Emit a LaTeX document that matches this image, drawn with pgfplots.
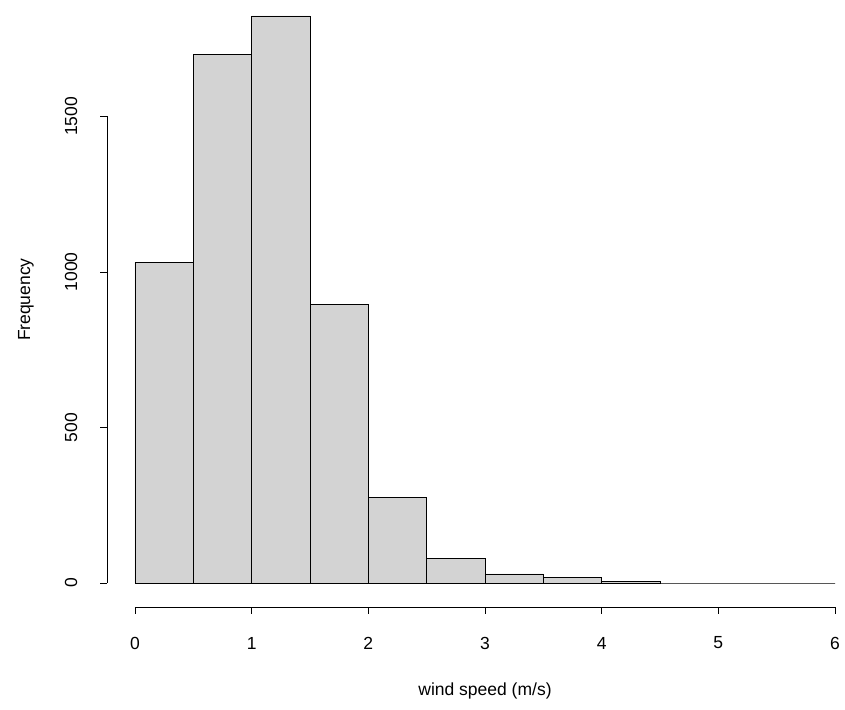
\documentclass[border=0pt]{standalone}
\usepackage{pgfplots}
\pgfplotsset{compat=1.18}
\usepackage{fontspec}
\setmainfont{Liberation Sans}
\definecolor{barfill}{RGB}{211,211,211}
\begin{document}
\begin{tikzpicture}[x=1pt,y=1pt]
\begin{axis}[anchor=origin, at={(0,0)}, scale only axis, width=700pt, height=567pt,
  xmin=0, xmax=6, ymin=0, ymax=1823, axis lines=none, clip=false]
\addplot[ybar interval, fill=barfill, draw=black, line width=0.8pt] coordinates {
(0,1032) (0.5,1698) (1,1823) (1.5,897) (2,276) (2.5,80) (3,29) (3.5,19) (4,6) (4.5,0) (5,0) (5.5,0) (6,0)};
\draw[line width=0.8pt] ([xshift=-28pt]axis cs:0,0) -- ([xshift=-28pt]axis cs:0,1500);
\pgfplotsinvokeforeach{0,500,1000,1500}{
  \draw[line width=0.8pt] ([xshift=-28pt]axis cs:0,#1) -- ([xshift=-35pt]axis cs:0,#1);
  \node[rotate=90, font=\fontsize{17.5}{20}\selectfont] at ([xshift=-64pt]axis cs:0,#1) {#1};
}
\draw[line width=0.8pt] ([yshift=-24pt]axis cs:0,0) -- ([yshift=-24pt]axis cs:6,0);
\pgfplotsinvokeforeach{0,1,2,3,4,5,6}{
  \draw[line width=0.8pt] ([yshift=-24pt]axis cs:#1,0) -- ([yshift=-31pt]axis cs:#1,0);
  \node[font=\fontsize{17.5}{20}\selectfont] at ([yshift=-60pt]axis cs:#1,0) {#1};
}
\node[font=\fontsize{17.5}{20}\selectfont] at ([yshift=-108pt]axis cs:3,0) {wind speed (m/s)};
\node[rotate=90, font=\fontsize{17.5}{20}\selectfont] at ([xshift=-109pt]axis cs:0,911) {Frequency};
\end{axis}
\path[use as bounding box] (-135,-126) rectangle (710,583);
\end{tikzpicture}
\end{document}
